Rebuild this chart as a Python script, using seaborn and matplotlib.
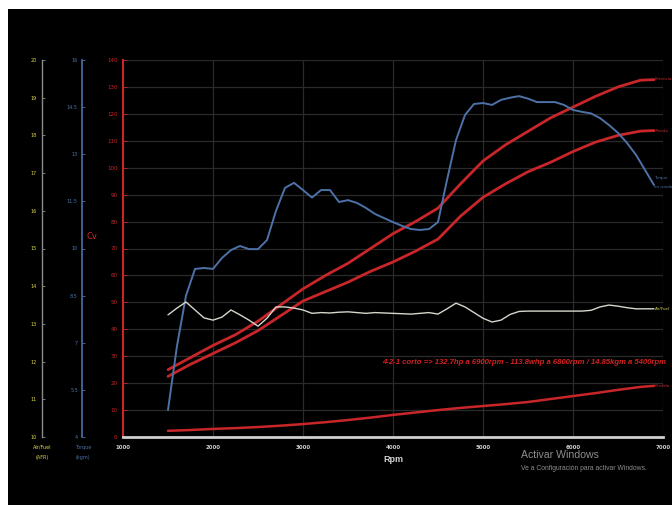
import numpy as np
import matplotlib
matplotlib.use("Agg")
import matplotlib.pyplot as plt
from matplotlib.patches import Rectangle
import seaborn as sns

# ---- dyno data -------------------------------------------------------------
rpm_power = [1500, 1750, 2000, 2250, 2500, 2750, 3000, 3250, 3500, 3750, 4000, 4250,
             4500, 4750, 5000, 5250, 5500, 5750, 6000, 6250, 6500, 6750, 6900]
cv_motor = [25.0, 29.5, 34.0, 38.0, 43.0, 49.0, 55.0, 60.0, 64.5, 70.0, 75.5, 80.0,
            85.0, 94.0, 102.5, 108.5, 113.5, 118.5, 122.5, 126.5, 130.0, 132.5, 132.7]
cv_rueda = [22.5, 27.0, 31.0, 35.0, 39.5, 45.0, 50.5, 54.0, 57.5, 61.5, 65.0, 69.0,
            73.5, 82.0, 89.0, 94.0, 98.5, 102.0, 106.0, 109.5, 112.0, 113.6, 113.8]
cv_perdida = [2.3, 2.6, 3.0, 3.3, 3.7, 4.2, 4.8, 5.5, 6.3, 7.2, 8.2, 9.1,
              10.0, 10.8, 11.5, 12.2, 13.0, 14.1, 15.2, 16.3, 17.5, 18.6, 19.0]

rpm_fine = np.arange(1500, 7000, 100)
torque_kgm = [4.86, 6.90, 8.50, 9.35, 9.38, 9.35, 9.70, 9.95, 10.08, 9.98,
              9.98, 10.27, 11.20, 11.93, 12.09, 11.86, 11.62, 11.86, 11.86, 11.48,
              11.54, 11.45, 11.29, 11.10, 10.97, 10.84, 10.72, 10.62, 10.59, 10.62,
              10.84, 12.18, 13.45, 14.25, 14.60, 14.63, 14.57, 14.73, 14.80, 14.85,
              14.77, 14.66, 14.66, 14.66, 14.57, 14.41, 14.35, 14.30, 14.15, 13.93,
              13.68, 13.36, 12.98, 12.50, 12.02]
afr = [13.24, 13.42, 13.58, 13.37, 13.16, 13.10, 13.18, 13.37, 13.24, 13.10,
       12.94, 13.15, 13.45, 13.45, 13.42, 13.37, 13.28, 13.30, 13.29, 13.31,
       13.32, 13.30, 13.28, 13.30, 13.29, 13.28, 13.27, 13.26, 13.28, 13.30,
       13.26, 13.40, 13.55, 13.45, 13.30, 13.15, 13.05, 13.10, 13.25, 13.33,
       13.34, 13.34, 13.34, 13.34, 13.34, 13.34, 13.34, 13.36, 13.45, 13.50,
       13.47, 13.43, 13.40, 13.40, 13.40]

rpm_ticks = [1000, 2000, 3000, 4000, 5000, 6000, 7000]
cv_ticks = list(range(0, 150, 10))
torque_ticks = [4, 5.5, 7, 8.5, 10, 11.5, 13, 14.5, 16]
afr_ticks = [10, 11, 12, 13, 14, 15, 16, 17, 18, 19, 20]

resumen = "4-2-1 corto => 132.7hp a 6900rpm - 113.8whp a 6800rpm / 14.85kgm a 5400rpm"

# ---- colours -----------------------------------------------------------------
RED = "#c9262a"
BLUE = "#4d72a8"
AFR_LINE = "#d6d6cc"
AFR_TXT = "#d9d650"
GRID = "#2a2a2a"
LIGHT = "#d0d0d0"

sns.set_theme(style="dark")
plt.rcParams["font.family"] = ["DejaVu Sans"]

W, H = 672, 519
fig = plt.figure(figsize=(W / 100, H / 100), dpi=100, facecolor="black")

# white frame strips around the black panel
for (x0, y0, w, h) in [(0, H - 9, W, 9), (0, 0, 8, H), (0, 0, W, 14)]:
    fig.patches.append(Rectangle((x0 / W, y0 / H), w / W, h / H, transform=fig.transFigure,
                                 facecolor="white", edgecolor="none", zorder=0))

ax = fig.add_axes([123 / W, 82 / H, 540 / W, 377 / H])
ax.set_facecolor("black")
ax.set_xlim(1000, 7000)
ax.set_ylim(0, 140)

# grid
for yv in cv_ticks[1:]:
    ax.axhline(yv, color=GRID, lw=0.9, zorder=0)
for xv in rpm_ticks[1:]:
    ax.axvline(xv, color=GRID, lw=0.9, zorder=0)

# power curves (Cv)
sns.lineplot(x=rpm_power, y=cv_motor, ax=ax, color=RED, lw=2.0, zorder=4)
sns.lineplot(x=rpm_power, y=cv_rueda, ax=ax, color=RED, lw=2.0, zorder=4)
sns.lineplot(x=rpm_power, y=cv_perdida, ax=ax, color=RED, lw=1.8, zorder=4)

# main (Cv) axis styling
for s in ["top", "right"]:
    ax.spines[s].set_visible(False)
ax.spines["left"].set_color(RED)
ax.spines["left"].set_linewidth(1.5)
ax.spines["bottom"].set_color(LIGHT)
ax.spines["bottom"].set_linewidth(2.0)
ax.set_yticks(cv_ticks)
ax.set_yticklabels([str(v) for v in cv_ticks])
ax.tick_params(axis="y", colors=RED, labelcolor=RED, labelsize=4, direction="in",
               length=3, width=0.6, pad=4, left=True)
ax.set_xticks(rpm_ticks)
ax.set_xticklabels([str(v) for v in rpm_ticks], fontweight="bold")
ax.tick_params(axis="x", colors=LIGHT, labelcolor=LIGHT, labelsize=4, length=0, pad=6,
               bottom=False)
ax.set_xlabel("")
ax.set_ylabel("")
ax.text(4000, -8.5, "Rpm", color=LIGHT, fontsize=6.5, fontweight="bold",
        ha="center", va="center", clip_on=False, family=["Liberation Sans", "DejaVu Sans"])

# torque axis (kgm)
ax_t = ax.twinx()
ax_t.set_ylim(4, 16)
ax_t.patch.set_visible(False)
for s in ["top", "right", "bottom"]:
    ax_t.spines[s].set_visible(False)
ax_t.spines["left"].set_visible(True)
ax_t.spines["left"].set_position(("axes", (82 - 123) / 540))
ax_t.spines["left"].set_color(BLUE)
ax_t.spines["left"].set_linewidth(1.2)
ax_t.yaxis.tick_left()
ax_t.set_yticks(torque_ticks)
ax_t.set_yticklabels([f"{v:g}" for v in torque_ticks])
ax_t.tick_params(axis="y", colors=BLUE, labelcolor=BLUE, labelsize=3.5, direction="in",
                 length=2.5, width=0.6, pad=3, right=False, left=True)
ax_t.grid(False)
sns.lineplot(x=rpm_fine, y=torque_kgm, ax=ax_t, color=BLUE, lw=1.4, zorder=3)
ax_t.set_xlim(1000, 7000)
ax_t.set_ylabel("")

# air/fuel axis (AFR)
ax_a = ax.twinx()
ax_a.set_ylim(10, 20)
ax_a.patch.set_visible(False)
for s in ["top", "right", "bottom"]:
    ax_a.spines[s].set_visible(False)
ax_a.spines["left"].set_visible(True)
ax_a.spines["left"].set_position(("axes", (42 - 123) / 540))
ax_a.spines["left"].set_color("#8c8c8c")
ax_a.spines["left"].set_linewidth(1.0)
ax_a.yaxis.tick_left()
ax_a.set_yticks(afr_ticks)
ax_a.set_yticklabels([str(v) for v in afr_ticks])
ax_a.tick_params(axis="y", colors="#8c8c8c", labelcolor=AFR_TXT, labelsize=3.5,
                 direction="in", length=2.5, width=0.6, pad=4, right=False, left=True)
ax_a.grid(False)
sns.lineplot(x=rpm_fine, y=afr, ax=ax_a, color=AFR_LINE, lw=1.0, zorder=3)
ax_a.set_xlim(1000, 7000)
ax_a.set_ylabel("")

# axis captions
fig.text(92 / W, 1 - 237 / H, "Cv", color=RED, fontsize=6, ha="center", va="center")
fig.text(42 / W, 1 - 447 / H, "Air/Fuel", color=AFR_TXT, fontsize=3.5, ha="center", va="center")
fig.text(42 / W, 1 - 457 / H, "(AFR)", color=AFR_TXT, fontsize=3.5, ha="center", va="center")
fig.text(83 / W, 1 - 447 / H, "Torque", color=BLUE, fontsize=3.5, ha="center", va="center")
fig.text(83 / W, 1 - 457 / H, "(kgm)", color=BLUE, fontsize=3.5, ha="center", va="center")

# curve end labels
end_kw = dict(fontsize=2.9, ha="left", va="center", clip_on=False)
ax.text(6910, 133.0, "Potencia", color=RED, **end_kw)
ax.text(6915, 113.8, "Rueda", color=RED, **end_kw)
ax.text(6900, 96.0, "Torque", color=BLUE, **end_kw)
ax.text(6900, 93.0, "en rueda", color=BLUE, **end_kw)
ax.text(6915, 47.5, "Air/Fuel", color=AFR_TXT, **end_kw)
ax.text(6910, 19.0, "Pérdida", color=RED, **end_kw)

# run summary
ax.text(3875, 27.5, resumen, color="#d42222", fontsize=5.6, fontweight="bold",
        fontstyle="italic", ha="left", va="center",
        family=["Liberation Sans", "DejaVu Sans"])

# OS activation notice overlay
fig.text(521 / W, 1 - 455 / H, "Activar Windows", color="#8e8e8e", fontsize=7.6,
         ha="left", va="center", family=["Liberation Sans", "DejaVu Sans"])
fig.text(521 / W, 1 - 468 / H, "Ve a Configuración para activar Windows.", color="#8e8e8e",
         fontsize=4.9, ha="left", va="center", family=["Liberation Sans", "DejaVu Sans"])

fig.savefig("out.png", dpi=100, facecolor=fig.get_facecolor())
